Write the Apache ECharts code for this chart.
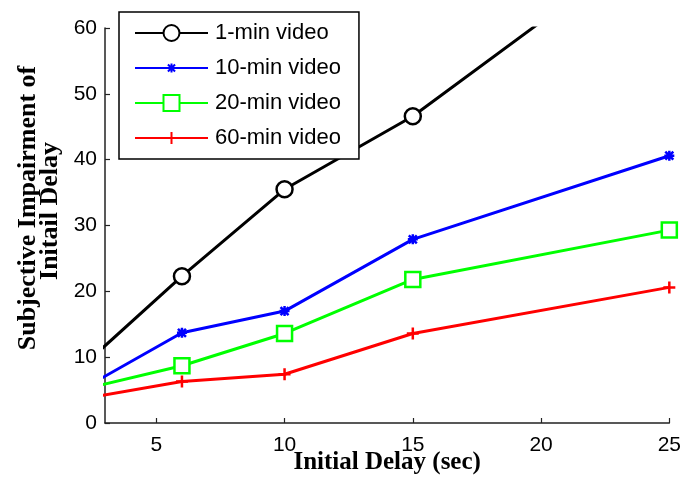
<!DOCTYPE html>
<html>
<head>
<meta charset="utf-8">
<title>Subjective Impairment of Initial Delay</title>
<script src="https://cdn.jsdelivr.net/npm/echarts@6/dist/echarts.min.js"></script>
<style>
  html, body { margin: 0; padding: 0; background: #fff; }
  #chart { width: 684px; height: 487px; }
</style>
</head>
<body>
<div id="chart"></div>
<script>
// Initial delay (sec); the first point lies left of the visible axis range
const delays = [2, 6, 10, 15, 25];
const oneMin = [8.2, 22.3, 35.5, 46.6, 75.3];
const tenMin = [4.9, 13.7, 17.0, 27.9, 40.6];
const twentyMin = [5.0, 8.7, 13.6, 21.8, 29.3];
const sixtyMin = [3.6, 6.3, 7.4, 13.6, 20.6];
const xTicks = [5, 10, 15, 20, 25];
const seriesNames = ['1-min video', '10-min video', '20-min video', '60-min video'];

const pairs = (ys) => delays.map((x, i) => [x, ys[i]]);

const SANS = 'Liberation Sans, Arial, sans-serif';
const SERIF = 'Liberation Serif, Times New Roman, serif';

// Stroked marker shapes; the leading moves pad the bounding box so the
// visible glyph stays small relative to the symbol size
const asterisk = 'path://M-9,-9M9,9M-5,0L5,0M0,-5L0,5M-4,-4L4,4M-4,4L4,-4';
const plus = 'path://M-8,-8M8,8M-6,0L6,0M0,-6L0,6';

const chart = echarts.init(document.getElementById('chart'), null, { renderer: 'canvas' });

function lineSeries(name, ys, color, symbol, size, fill) {
  return {
    name: name,
    type: 'line',
    data: pairs(ys),
    clip: true,
    symbol: symbol,
    symbolSize: size,
    showAllSymbol: true,
    lineStyle: { color: color, width: 3 },
    itemStyle: { color: fill, borderColor: color, borderWidth: 2.5 },
    emphasis: { disabled: true },
    animation: false
  };
}

chart.setOption({
  animation: false,
  grid: { left: 105, right: 12, top: 28, bottom: 64, containLabel: false },
  legend: {
    orient: 'vertical',
    left: 119,
    top: 12,
    padding: [10, 18, 10, 15],
    itemWidth: 73,
    itemHeight: 20,
    itemGap: 13,
    backgroundColor: '#fff',
    borderColor: '#000',
    borderWidth: 1.5,
    borderRadius: 0,
    z: 10,
    selectedMode: false,
    textStyle: { fontFamily: SANS, fontSize: 22, color: '#000', padding: [0, 0, 0, 2] },
    data: seriesNames
  },
  xAxis: {
    type: 'value',
    min: 3,
    max: 25,
    name: 'Initial Delay (sec)',
    nameLocation: 'middle',
    nameGap: 27,
    nameMoveOverlap: false,
    nameTextStyle: { fontFamily: SERIF, fontWeight: 'bold', fontSize: 25, color: '#000' },
    axisLine: { show: true, onZero: false, lineStyle: { color: '#222', width: 1.5 } },
    axisTick: { show: true, inside: true, length: 5, customValues: xTicks, lineStyle: { color: '#222', width: 1.2 } },
    axisLabel: { customValues: xTicks, fontFamily: SANS, fontSize: 21, color: '#000', margin: 12 },
    splitLine: { show: false }
  },
  yAxis: {
    type: 'value',
    min: 0,
    max: 60,
    interval: 10,
    axisLine: { show: true, lineStyle: { color: '#222', width: 1.5 } },
    axisTick: { show: true, inside: true, length: 5, lineStyle: { color: '#222', width: 1.2 } },
    axisLabel: { fontFamily: SANS, fontSize: 21, color: '#000', margin: 8 },
    splitLine: { show: false }
  },
  graphic: [
    {
      type: 'text',
      x: 28, y: 208,
      rotation: Math.PI / 2,
      style: {
        text: 'Subjective Impairment of',
        fontFamily: SERIF, fontWeight: 'bold', fontSize: 26, fill: '#000',
        align: 'center', verticalAlign: 'middle'
      }
    },
    {
      type: 'text',
      x: 50, y: 211,
      rotation: Math.PI / 2,
      style: {
        text: 'Initail Delay',
        fontFamily: SERIF, fontWeight: 'bold', fontSize: 26, fill: '#000',
        align: 'center', verticalAlign: 'middle'
      }
    }
  ],
  series: [
    lineSeries(seriesNames[0], oneMin, '#000000', 'circle', 16, '#ffffff'),
    lineSeries(seriesNames[1], tenMin, '#0000ff', asterisk, 18, '#0000ff'),
    lineSeries(seriesNames[2], twentyMin, '#00ff00', 'rect', 15, '#ffffff'),
    lineSeries(seriesNames[3], sixtyMin, '#ff0000', plus, 16, '#ff0000')
  ]
});
</script>
</body>
</html>
